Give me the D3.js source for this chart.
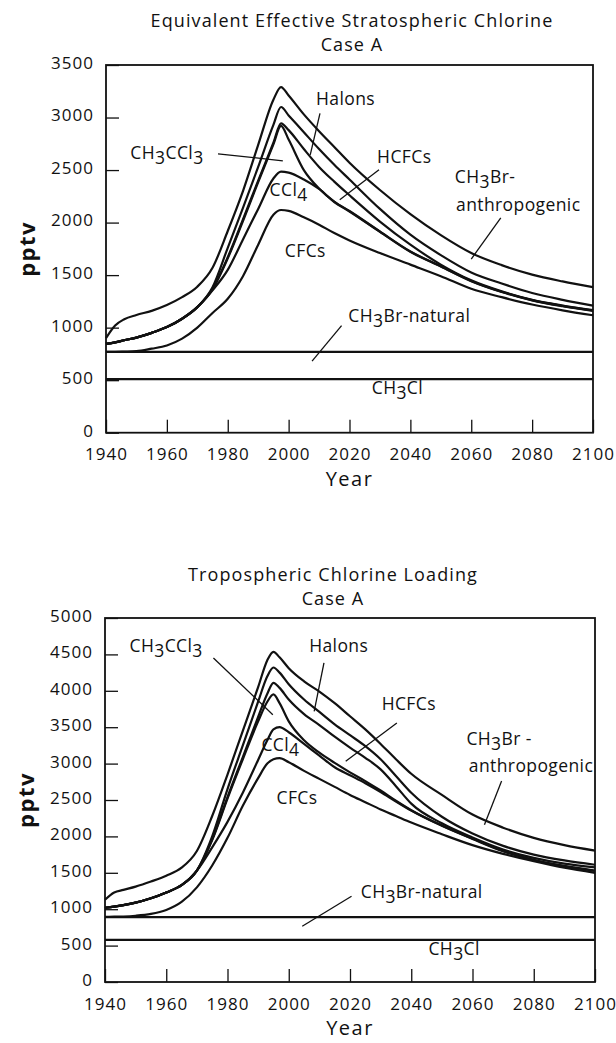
<!DOCTYPE html>
<html>
<head>
<meta charset="utf-8">
<script src="https://cdn.jsdelivr.net/npm/d3@7"></script>
<style>
  body { margin: 0; background: #fff; }
  text { font-family: "Open Sans", "DejaVu Sans", sans-serif; fill: #111; }
</style>
</head>
<body>
<div id="chart"></div>
<script>
// ---- data: top panel, equivalent effective stratospheric chlorine (pptv) ----
const yearsA = [1940, 1943, 1946, 1950, 1955, 1960, 1965, 1970, 1975, 1980, 1985, 1990, 1995, 1997.5,
  2000, 2005, 2010, 2015, 2020, 2030, 2040, 2050, 2060, 2070, 2080, 2090, 2100];
// each array is the upper edge of that band (cumulative)
const anthroTopA = [900, 1020, 1080, 1120, 1160, 1215, 1290, 1390, 1570, 1920, 2300, 2740, 3170, 3290,
  3210, 3030, 2870, 2720, 2570, 2310, 2080, 1880, 1710, 1595, 1505, 1440, 1385];
const halonTopA = [845, 860, 880, 905, 950, 1005, 1085, 1195, 1385, 1760, 2140, 2530, 2930, 3100,
  3020, 2860, 2700, 2550, 2410, 2130, 1885, 1690, 1525, 1420, 1330, 1265, 1210];
const hcfcTopA = [845, 860, 880, 905, 950, 1005, 1085, 1195, 1370, 1670, 2030, 2400, 2760, 2945,
  2880, 2700, 2530, 2390, 2260, 2010, 1790, 1600, 1450, 1345, 1265, 1210, 1166];
const mcfTopA = [845, 860, 880, 905, 950, 1005, 1085, 1195, 1365, 1660, 2015, 2385, 2745, 2920,
  2790, 2500, 2325, 2200, 2110, 1915, 1725, 1585, 1445, 1342, 1262, 1207, 1163];
const ccl4TopA = [845, 860, 880, 905, 950, 1005, 1085, 1195, 1355, 1550, 1840, 2130, 2420, 2485,
  2475, 2410, 2320, 2196, 2106, 1912, 1722, 1582, 1442, 1339, 1259, 1204, 1160];
const cfcTopA = [770, 770, 772, 776, 800, 830, 895, 1000, 1140, 1275, 1490, 1790, 2075, 2120,
  2112, 2050, 1980, 1900, 1830, 1710, 1600, 1490, 1370, 1290, 1220, 1165, 1118];
const naturalA = 770;
const ch3clA = 510;
const yTicksA = [0, 500, 1000, 1500, 2000, 2500, 3000, 3500];

// ---- data: bottom panel, tropospheric chlorine loading (pptv) ----
const yearsB = [1940, 1943, 1946, 1950, 1955, 1960, 1965, 1970, 1975, 1980, 1985, 1990, 1993, 1995, 1997,
  2000, 2005, 2010, 2015, 2020, 2025, 2030, 2035, 2040, 2050, 2060, 2070, 2080, 2090, 2100];
const anthroTopB = [1130, 1230, 1265, 1310, 1380, 1460, 1570, 1800, 2280, 2850, 3450, 4050, 4420, 4535, 4460,
  4310, 4130, 3990, 3830, 3650, 3470, 3270, 3060, 2860, 2570, 2300, 2120, 1980, 1880, 1805];
const halonTopB = [1020, 1035, 1055, 1090, 1150, 1230, 1330, 1530, 2000, 2650, 3250, 3850, 4200, 4320, 4250,
  4090, 3880, 3710, 3540, 3390, 3240, 3060, 2830, 2600, 2270, 2040, 1870, 1750, 1670, 1610];
const hcfcTopB = [1020, 1035, 1055, 1090, 1150, 1230, 1330, 1530, 1960, 2540, 3090, 3640, 3960, 4110, 4040,
  3880, 3680, 3530, 3370, 3220, 3080, 2920, 2690, 2450, 2180, 1985, 1820, 1705, 1625, 1575];
const mcfTopB = [1020, 1035, 1055, 1090, 1150, 1230, 1330, 1530, 1950, 2520, 3060, 3580, 3850, 3950, 3830,
  3580, 3320, 3150, 3010, 2880, 2760, 2630, 2490, 2360, 2150, 1970, 1800, 1680, 1595, 1530];
const ccl4TopB = [1020, 1035, 1055, 1090, 1150, 1230, 1330, 1530, 1850, 2200, 2600, 3050, 3320, 3470, 3500,
  3430, 3270, 3110, 2950, 2840, 2730, 2610, 2480, 2355, 2145, 1965, 1795, 1675, 1590, 1525];
const cfcTopB = [895, 897, 900, 910, 935, 990, 1100, 1300, 1600, 1980, 2420, 2800, 3000, 3060, 3075,
  3020, 2900, 2790, 2680, 2570, 2470, 2370, 2280, 2190, 2030, 1880, 1760, 1660, 1570, 1500];
const naturalB = 890;
const ch3clB = 580;
const yTicksB = [0, 500, 1000, 1500, 2000, 2500, 3000, 3500, 4000, 4500, 5000];

const xTicks = [1940, 1960, 1980, 2000, 2020, 2040, 2060, 2080, 2100];

// labels: [text, year, value, anchor]; "_3" marks a subscript
const labelsA = [
  ["Halons", 2018.7, 3120, "middle"],
  ["CH_3CCl_3", 1948.0, 2610, "start"],
  ["HCFCs", 2038, 2570, "middle"],
  ["CCl_4", 2000, 2250, "middle"],
  ["CFCs", 2005.5, 1670, "middle"],
  ["CH_3Br-", 2054.6, 2375, "start"],
  ["anthropogenic", 2055.0, 2110, "start"],
  ["CH_3Br-natural", 2019.6, 1050, "start"],
  ["CH_3Cl", 2027.3, 365, "start"]
];
const pointersA = [
  [2010.3, 3040, 2007.1, 2645],
  [1976.8, 2655, 1998.1, 2588],
  [2029.7, 2502, 2016.8, 2217],
  [2069.7, 2045, 2060.0, 1653],
  [2017.4, 1020, 2007.7, 681]
];
const labelsB = [
  ["CH_3CCl_3", 1948.0, 4530, "start"],
  ["Halons", 2016.3, 4530, "middle"],
  ["HCFCs", 2039.2, 3740, "middle"],
  ["CCl_4", 1997.3, 3170, "middle"],
  ["CFCs", 2002.7, 2445, "middle"],
  ["CH_3Br -", 2058.0, 3250, "start"],
  ["anthropogenic", 2058.8, 2880, "start"],
  ["CH_3Br-natural", 2023.5, 1155, "start"],
  ["CH_3Cl", 2045.6, 372, "start"]
];
const pointersB = [
  [1975.4, 4451, 1994.8, 3672],
  [2011.5, 4382, 2008.3, 3718],
  [2035.3, 3558, 2018.6, 3031],
  [2069.5, 2760, 2063.9, 2161],
  [2020.5, 1177, 2004.4, 765]
];

const svg = d3.select("#chart").append("svg")
  .attr("width", 616)
  .attr("height", 1043);

svg.append("rect").attr("width", 616).attr("height", 1043).attr("fill", "#fff");

function addLabel(g, str, x, y, anchor, size) {
  const t = g.append("text")
    .attr("x", x)
    .attr("y", y)
    .attr("text-anchor", anchor)
    .style("font-size", size + "px")
    .style("letter-spacing", "0.4px");
  const parts = str.split(/_(\d)/);
  let sub = false;
  parts.forEach((p, i) => {
    if (p === "") return;
    const isSub = i % 2 === 1;
    const ts = t.append("tspan").text(p);
    if (isSub && !sub) { ts.attr("dy", 5); sub = true; }
    else if (!isSub && sub) { ts.attr("dy", -5); sub = false; }
  });
}

function drawPanel(p) {
  const g = svg.append("g").attr("transform", `translate(${p.left},${p.top})`);

  const x = d3.scaleLinear().domain([1940, 2100]).range([0, p.width]);
  const y = d3.scaleLinear().domain([0, p.yMax]).range([p.height, 0]);

  // titles
  p.title.forEach((t, i) => {
    svg.append("text")
      .attr("x", p.titleX)
      .attr("y", p.titleY + i * 24)
      .attr("text-anchor", "middle")
      .style("font-size", "18px")
      .style("letter-spacing", "1.1px")
      .text(t);
  });

  // axes with inward ticks
  const yAxis = g.append("g")
    .call(d3.axisLeft(y).tickValues(p.yTicks).tickSize(-13).tickPadding(12).tickFormat(d3.format("d")));
  const xAxis = g.append("g")
    .attr("transform", `translate(0,${p.height})`)
    .call(d3.axisBottom(x).tickValues(xTicks).tickSize(-13).tickPadding(17).tickFormat(d3.format("d")));
  [yAxis, xAxis].forEach(a => {
    a.select(".domain").remove();
    a.selectAll(".tick line").attr("stroke", "#111").attr("stroke-width", 1.3);
    a.selectAll("text")
      .style("font-family", "'Open Sans', sans-serif")
      .style("font-size", "17px")
      .style("letter-spacing", "1px")
      .attr("fill", "#111");
  });
  yAxis.selectAll("text").attr("dy", "0.2em");
  xAxis.selectAll("text").attr("dy", "0.62em");

  g.append("rect")
    .attr("width", p.width)
    .attr("height", p.height)
    .attr("fill", "none")
    .attr("stroke", "#111")
    .attr("stroke-width", 1.8);

  // flat bands
  [p.ch3cl, p.natural].forEach(v => {
    g.append("line")
      .attr("x1", x(1940)).attr("x2", x(2100))
      .attr("y1", y(v)).attr("y2", y(v))
      .attr("stroke", "#111")
      .attr("stroke-width", 2.2);
  });

  const line = d3.line()
    .x((d, i) => x(p.years[i]))
    .y(d => y(d))
    .curve(d3.curveMonotoneX);

  p.curves.forEach(c => {
    g.append("path")
      .attr("d", line(c))
      .attr("fill", "none")
      .attr("stroke", "#111")
      .attr("stroke-width", 2.2)
      .attr("stroke-linejoin", "round");
  });

  p.pointers.forEach(q => {
    g.append("line")
      .attr("x1", x(q[0])).attr("y1", y(q[1]))
      .attr("x2", x(q[2])).attr("y2", y(q[3]))
      .attr("stroke", "#111")
      .attr("stroke-width", 1.3);
  });

  p.labels.forEach(l => addLabel(g, l[0], x(l[1]), y(l[2]), l[3], 17.5));

  // axis titles
  svg.append("text")
    .attr("transform", `translate(${p.left - 79},${p.top + p.height / 2}) rotate(-90)`)
    .attr("text-anchor", "middle")
    .attr("dy", "0.35em")
    .style("font-size", "22px")
    .style("font-weight", "bold")
    .style("letter-spacing", "1.5px")
    .text("pptv");
  svg.append("text")
    .attr("x", p.left + p.width / 2)
    .attr("y", p.top + p.height + 53)
    .attr("text-anchor", "middle")
    .style("font-size", "20px")
    .style("letter-spacing", "1.5px")
    .text("Year");
}

drawPanel({
  left: 106, top: 65, width: 487, height: 367.7,
  yMax: 3500, yTicks: yTicksA, years: yearsA,
  curves: [anthroTopA, halonTopA, hcfcTopA, mcfTopA, ccl4TopA, cfcTopA],
  natural: naturalA, ch3cl: ch3clA,
  labels: labelsA, pointers: pointersA,
  title: ["Equivalent Effective Stratospheric Chlorine", "Case A"],
  titleX: 352, titleY: 27
});

drawPanel({
  left: 105, top: 618, width: 490, height: 364,
  yMax: 5000, yTicks: yTicksB, years: yearsB,
  curves: [anthroTopB, halonTopB, hcfcTopB, mcfTopB, ccl4TopB, cfcTopB],
  natural: naturalB, ch3cl: ch3clB,
  labels: labelsB, pointers: pointersB,
  title: ["Tropospheric Chlorine Loading", "Case A"],
  titleX: 333, titleY: 581
});
</script>
</body>
</html>
